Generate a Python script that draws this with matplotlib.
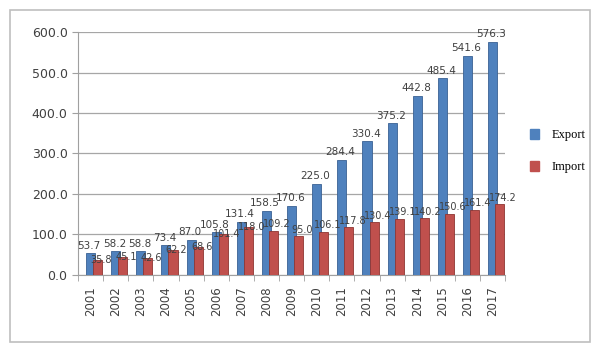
import matplotlib.pyplot as plt
from matplotlib.patches import Rectangle, Patch
import numpy as np

# dados
years = ['2001', '2002', '2003', '2004', '2005', '2006', '2007', '2008', '2009',
         '2010', '2011', '2012', '2013', '2014', '2015', '2016', '2017']
export = [53.7, 58.2, 58.8, 73.4, 87.0, 105.8, 131.4, 158.5, 170.6,
          225.0, 284.4, 330.4, 375.2, 442.8, 485.4, 541.6, 576.3]
imports = [35.8, 45.1, 42.6, 62.2, 68.6, 101.4, 118.0, 109.2, 95.0,
           106.1, 117.8, 130.4, 139.1, 140.2, 150.6, 161.4, 174.2]

blue = '#4F81BD'
red = '#C0504D'
txt = '#404040'

fig = plt.figure(figsize=(6.0, 3.52), dpi=100, facecolor='white')
ax = fig.add_axes([0.13, 0.219, 0.712, 0.69])

x = np.arange(len(years))
w = 0.36
ax.bar(x, export, width=w, color=blue, edgecolor='#3A6194', linewidth=0.6, zorder=3)
ax.bar(x + 0.28, imports, width=w, color=red, edgecolor='#8E3532', linewidth=0.6, zorder=4)

for i in range(len(years)):
    ax.text(x[i] - 0.05, export[i] + 6, f'{export[i]:.1f}', ha='center', va='bottom',
            fontsize=7.5, color=txt, clip_on=False, zorder=5)
    # rótulo de importação deslocado para reduzir sobreposição
    dy = 4 if export[i] - imports[i] > 40 else -12
    ax.text(x[i] + 0.42, imports[i] + dy, f'{imports[i]:.1f}', ha='center', va='bottom',
            fontsize=7, color=txt, clip_on=False, zorder=5)

ax.set_xlim(-0.5, len(years) - 0.5)
ax.set_ylim(0, 600)
ax.set_yticks(np.arange(0, 601, 100))
ax.set_yticklabels([f'{v:.1f}' for v in np.arange(0, 601, 100)], fontsize=9, color=txt)
ax.set_xticks(x)
ax.set_xticklabels(years, rotation=90, fontsize=8.5, color=txt)
ax.set_xticks(np.arange(-0.5, len(years), 1), minor=True)
ax.tick_params(axis='x', which='major', length=0, pad=8)
ax.tick_params(axis='x', which='minor', length=4, color='#A0A0A0')
ax.tick_params(axis='y', length=4, color='#A0A0A0')
ax.grid(axis='y', color='#A6A6A6', linewidth=0.9, zorder=0)
for s in ['top', 'right']:
    ax.spines[s].set_visible(False)
for s in ['left', 'bottom']:
    ax.spines[s].set_color('#A0A0A0')

handles = [Patch(facecolor=blue, edgecolor=blue), Patch(facecolor=red, edgecolor=red)]
fig.legend(handles, ['Export', 'Import'], loc='center left', bbox_to_anchor=(0.865, 0.57),
           frameon=False, prop={'family': 'Liberation Serif', 'size': 9},
           handlelength=0.7, handleheight=0.8, labelspacing=1.6, handletextpad=1.0)

# moldura externa
fig.patches.append(Rectangle((10 / 600, 10 / 352), 580 / 600, 332 / 352,
                             transform=fig.transFigure, fill=False,
                             edgecolor='#BFBFBF', linewidth=1.2))

plt.savefig('out.png', dpi=100)
